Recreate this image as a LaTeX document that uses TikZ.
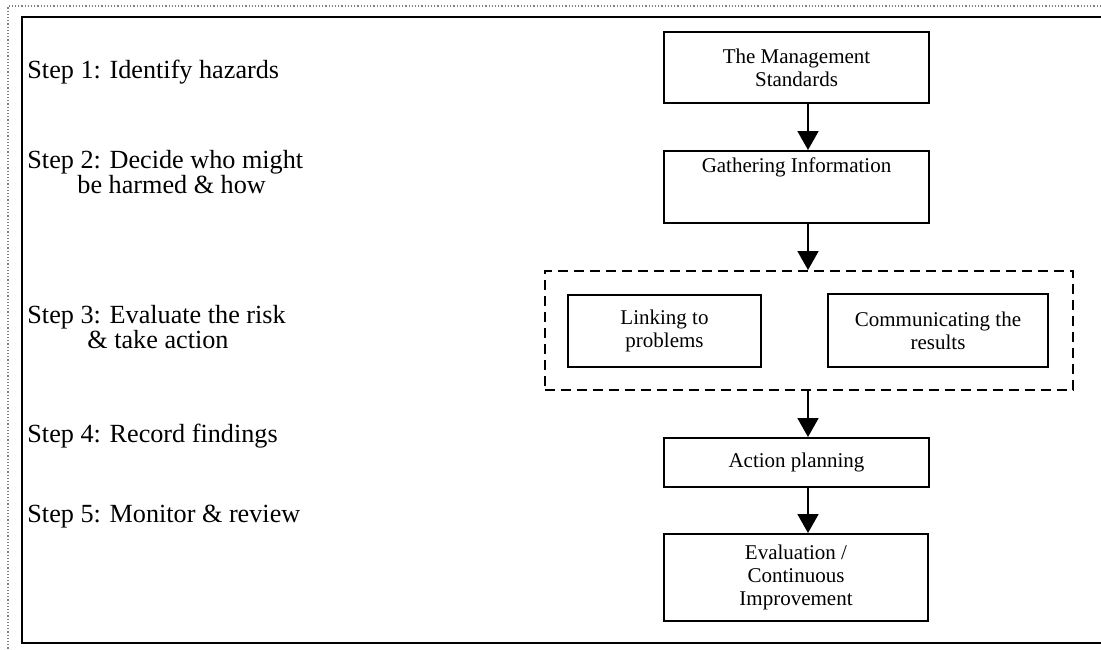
\documentclass[tikz,border=0pt]{standalone}
\usepackage{fontspec}
\setmainfont{Liberation Serif}
\usetikzlibrary{arrows.meta,positioning}
\newcommand{\stepfont}{\fontsize{13.1}{12.5}\selectfont}
\newcommand{\boxfont}{\fontsize{10.5}{11.6}\selectfont}
\tikzset{
  stepbox/.style={draw, line width=1pt, align=center, inner sep=0pt, font=\boxfont},
  steptext/.style={anchor=base west, inner sep=0pt, align=left, font=\stepfont},
  flow/.style={-{Triangle[length=9.5pt,width=10.5pt]}, line width=0.9pt},
}

\begin{document}
\begin{tikzpicture}[x=0.5pt, y=-0.5pt]
  \useasboundingbox (0,0) rectangle (1101,649);
  % page frames
  \draw[gray, densely dotted, line width=0.6pt] (1101,6) -- (8,6) -- (8,649);
  \draw[line width=0.8pt] (1101,17) -- (22,17) -- (22,643) -- (1101,643);
  % steps of the risk assessment (base = last line)
  \node[steptext] (s1) at (27,78)  {Step 1: Identify hazards};
  \node[steptext] (s2) at (27,193) {Step 2: Decide who might\\\hspace*{25pt}be harmed \& how};
  \node[steptext] (s3) at (27,348) {Step 3: Evaluate the risk\\\hspace*{30pt}\& take action};
  \node[steptext] (s4) at (27,442) {Step 4: Record findings};
  \node[steptext] (s5) at (27,522) {Step 5: Monitor \& review};
  % process boxes
  \node[stepbox, minimum width=132.5pt, minimum height=35.5pt] (mgmt) at (796.5,67.5)
    {The Management\\Standards};
  \node[stepbox, minimum width=132.5pt, minimum height=36pt, text height=8pt, text depth=23pt] (gather) at (796.5,187)
    {Gathering Information};
  \node[draw, dashed, dash pattern=on 5pt off 3pt, line width=1pt, minimum width=264pt, minimum height=59.5pt, inner sep=0pt] (group) at (809,330.5) {};
  \node[stepbox, minimum width=96.5pt, minimum height=36pt] (link) at (664.5,331)
    {Linking to\\problems};
  \node[stepbox, minimum width=110pt, minimum height=36.5pt] (comm) at (938,330.5)
    {Communicating the\\results};
  \node[stepbox, minimum width=132.5pt, minimum height=24.5pt] (action) at (796.5,462.5)
    {Action planning};
  \node[stepbox, minimum width=132pt, minimum height=43.5pt] (eval) at (796,577.5)
    {Evaluation /\\Continuous\\Improvement};
  % connectors
  \coordinate (ax) at (808,0);
  \draw[flow] (mgmt.south -| ax) -- (gather.north -| ax);
  \draw[flow] (gather.south -| ax) -- (group.north -| ax);
  \draw[flow] (group.south -| ax) -- (action.north -| ax);
  \draw[flow] (action.south -| ax) -- (eval.north -| ax);
\end{tikzpicture}
\end{document}
